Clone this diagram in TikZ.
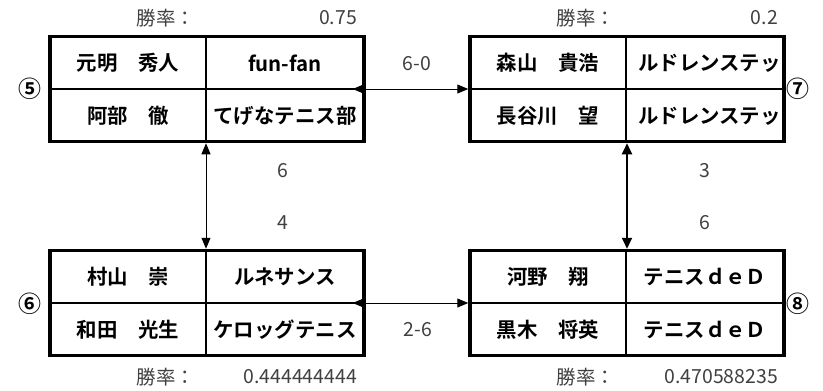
\documentclass[tikz,border=0pt]{standalone}
\usepackage{fontspec}
\setmainfont{Noto Sans CJK JP}[BoldFont={* Bold}]
\usetikzlibrary{arrows.meta}
\definecolor{lab}{RGB}{64,64,64}
\begin{document}
\begin{tikzpicture}[x=1bp,y=-1bp,
  box/.style={draw, line width=3.5bp, minimum width=314bp, minimum height=105bp, inner sep=0pt},
  divline/.style={line width=1.2bp},
  cell/.style={font=\bfseries\fontsize{20.5}{20.5}\selectfont, inner sep=0pt, anchor=center},
  circ/.style={font=\bfseries\fontsize{23}{23}\selectfont, inner sep=0pt},
  lab/.style={font=\fontsize{19.5}{19.5}\selectfont, text=lab, inner sep=0pt},
  conn/.style={line width=1bp, {Triangle[length=11bp,width=9bp]}-{Triangle[length=11bp,width=9bp]}},
  connthick/.style={line width=2bp, {Triangle[length=11bp,width=10bp]}-{Triangle[length=11bp,width=10bp]}}
]
\useasboundingbox (0,0) rectangle (823,390);

% boxes
\node[box] (b5) at (207,89) {};
\node[box] (b7) at (627,89) {};
\node[box] (b6) at (207,303) {};
\node[box] (b8) at (627,303) {};

\foreach \b in {b5,b7,b6,b8}{
  \draw[divline] ([xshift=-1bp]\b.north) -- ([xshift=-1bp]\b.south);
  \draw[divline] (\b.west) -- (\b.east);
}

% cell texts
\node[cell] (t5a) at ([shift={(-79,-26)}]b5.center) {元明　秀人};
\node[cell] (t5b) at ([shift={(78,-26)}]b5.center) {fun-fan};
\node[cell] (t5c) at ([shift={(-79,27)}]b5.center) {阿部　徹};
\node[cell] (t5d) at ([shift={(78,27)}]b5.center) {てげなテニス部};

\node[cell] (t7a) at ([shift={(-79,-26)}]b7.center) {森山　貴浩};
\node[cell, anchor=east] (t7b) at ([shift={(154,-26)}]b7.center) {ルドレンステッ};
\node[cell] (t7c) at ([shift={(-79,27)}]b7.center) {長谷川　望};
\node[cell, anchor=east] (t7d) at ([shift={(154,27)}]b7.center) {ルドレンステッ};

\node[cell] (t6a) at ([shift={(-79,-26)}]b6.center) {村山　崇};
\node[cell] (t6b) at ([shift={(78,-26)}]b6.center) {ルネサンス};
\node[cell] (t6c) at ([shift={(-79,27)}]b6.center) {和田　光生};
\node[cell] (t6d) at ([shift={(78,27)}]b6.center) {ケロッグテニス};

\node[cell] (t8a) at ([shift={(-79,-26)}]b8.center) {河野　翔};
\node[cell] (t8b) at ([shift={(78,-26)}]b8.center) {テニスｄｅＤ};
\node[cell] (t8c) at ([shift={(-79,27)}]b8.center) {黒木　将英};
\node[cell] (t8d) at ([shift={(78,27)}]b8.center) {テニスｄｅＤ};

% circled numbers
\node[circ] (c5) at (30,89) {⑤};
\node[circ] (c7) at (798,89) {⑦};
\node[circ] (c6) at (30,304) {⑥};
\node[circ] (c8) at (798,304) {⑧};

% win rates
\node[lab] (w5k) at (166,18) {勝率：};
\node[lab, anchor=east] (w5v) at (357,18) {0.75};
\node[lab] (w7k) at (586,18) {勝率：};
\node[lab, anchor=east] (w7v) at (778,18) {0.2};
\node[lab] (w6k) at (166,377) {勝率：};
\node[lab, anchor=east] (w6v) at (357,377) {0.444444444};
\node[lab] (w8k) at (586,377) {勝率：};
\node[lab, anchor=east] (w8v) at (778,377) {0.470588235};

% connectors
\draw[conn] ([xshift=-13bp]b5.east) -- (b7.west);
\draw[conn] ([xshift=-13bp]b6.east) -- (b8.west);
\draw[conn] ([xshift=-1bp]b5.south) -- ([xshift=-1bp]b6.north);
\draw[connthick] (b7.south) -- (b8.north);

% scores
\node[lab] (s1) at (417,64) {6-0};
\node[lab] (s2) at (418,330) {2-6};
\node[lab] (s3) at (283,171) {6};
\node[lab] (s4) at (283,223) {4};
\node[lab] (s5) at (705,171) {3};
\node[lab] (s6) at (705,223) {6};
\end{tikzpicture}
\end{document}
